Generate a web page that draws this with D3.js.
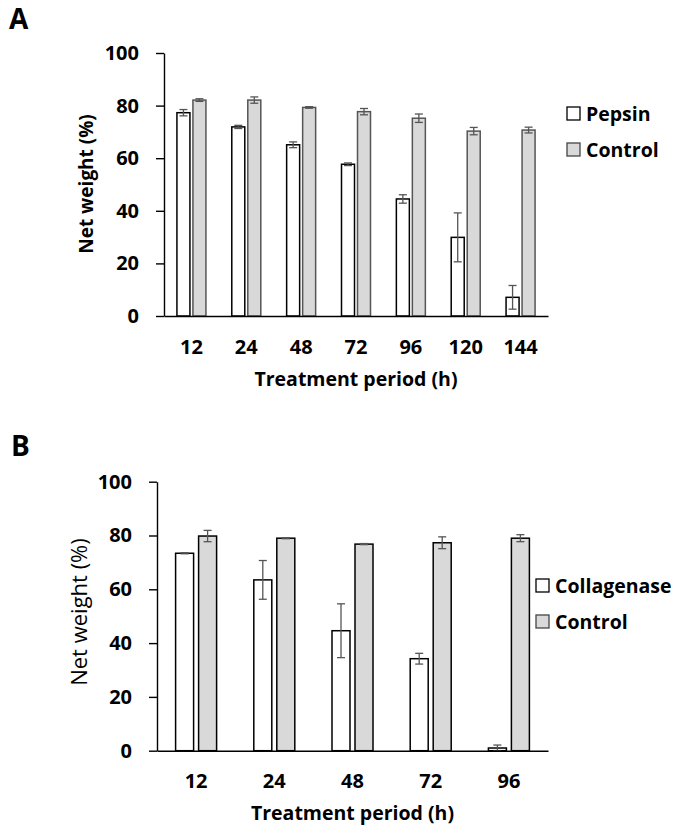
<!DOCTYPE html>
<html><head><meta charset="utf-8">
<script src="https://cdn.jsdelivr.net/npm/d3@7"></script>
<style>
body{margin:0;background:#fff}
svg{display:block}
text{font-family:"Open Sans",sans-serif;fill:#000}
</style>
</head><body>
<svg id="chart" width="675" height="830"></svg>
<script>
// ---- Data ----
const catsA = ["12", "24", "48", "72", "96", "120", "144"];
const pepsin = [77.3, 71.9, 65.1, 57.7, 44.5, 29.9, 7.1];
const pepsinErr = [1.2, 0.6, 1.1, 0.5, 1.6, 9.3, 4.5];
const controlA = [82.1, 82.1, 79.3, 77.7, 75.2, 70.3, 70.7];
const controlAErr = [0.5, 1.2, 0.3, 1.2, 1.6, 1.4, 1.1];

const catsB = ["12", "24", "48", "72", "96"];
const collagenase = [73.4, 63.5, 44.6, 34.2, 1.0];
const collagenaseErr = [0.2, 7.2, 10.0, 2.0, 1.1];
const controlB = [79.8, 79.0, 76.8, 77.3, 79.0];
const controlBErr = [2.1, 0.2, 0.2, 2.2, 1.3];

const yTicks = [0, 20, 40, 60, 80, 100];
const seriesNamesA = ["Pepsin", "Control"];
const seriesNamesB = ["Collagenase", "Control"];
const panelLabels = ["A", "B"];
const xTitle = "Treatment period (h)";
const yTitle = "Net weight (%)";

const svg = d3.select("#chart");

function drawPanel(o) {
  const g = svg.append("g");
  const x = d3.scaleBand().domain(o.cats).range([o.x0, o.x1]).padding(0);
  const y = d3.scaleLinear().domain([0, 100]).range([o.y0, o.y1]);

  // panel letter
  g.append("text").attr("x", o.letterX).attr("y", o.letterY)
    .attr("font-size", 28).attr("font-weight", 700).text(o.letter);

  // y axis
  const ya = g.append("g").attr("transform", `translate(${o.x0},0)`)
    .call(d3.axisLeft(y).tickValues(yTicks).tickSize(8).tickSizeOuter(0).tickPadding(17));
  ya.selectAll("path.domain").attr("stroke", "#000").attr("stroke-width", 1.4);
  ya.selectAll(".tick line").attr("stroke", "#000").attr("stroke-width", 1.4);
  ya.selectAll(".tick text").attr("font-size", 20).attr("font-weight", 700)
    .attr("font-family", '"Open Sans",sans-serif').attr("fill", "#000");

  // bars
  const series = [
    {vals: o.s1, errs: o.e1, off: -o.off, fill: "#fff", stroke: "#000"},
    {vals: o.s2, errs: o.e2, off: o.off, fill: "#d9d9d9", stroke: o.ctrlStroke}
  ];
  series.forEach(s => {
    const cx = (c) => x(c) + x.bandwidth() / 2 + s.off;
    g.append("g").selectAll("rect").data(o.cats).join("rect")
      .attr("x", (c) => cx(c) - o.bw / 2)
      .attr("y", (c, i) => y(s.vals[i]))
      .attr("width", o.bw)
      .attr("height", (c, i) => y(0) - y(s.vals[i]))
      .attr("fill", s.fill).attr("stroke", s.stroke).attr("stroke-width", 1.5);
    const eg = g.append("g").attr("stroke", "#555").attr("stroke-width", 1.3);
    o.cats.forEach((c, i) => {
      const X = cx(c), hi = y(s.vals[i] + s.errs[i]), lo = y(s.vals[i] - s.errs[i]);
      eg.append("line").attr("x1", X).attr("x2", X).attr("y1", hi).attr("y2", lo);
      eg.append("line").attr("x1", X - o.cap).attr("x2", X + o.cap).attr("y1", hi).attr("y2", hi);
      eg.append("line").attr("x1", X - o.cap).attr("x2", X + o.cap).attr("y1", lo).attr("y2", lo);
    });
  });

  // x axis
  const xa = g.append("g").attr("transform", `translate(0,${o.y0})`)
    .call(d3.axisBottom(x).tickSize(0).tickSizeOuter(0));
  xa.selectAll("path.domain").attr("stroke", "#000").attr("stroke-width", 1.4);
  xa.selectAll(".tick text").attr("y", o.tickLabelOff).attr("dy", 0)
    .attr("font-size", 20).attr("font-weight", 700)
    .attr("font-family", '"Open Sans",sans-serif').attr("fill", "#000");

  // axis titles
  g.append("text").attr("x", (o.x0 + o.x1) / 2).attr("y", o.xTitleY)
    .attr("text-anchor", "middle").attr("font-size", 19.5).attr("font-weight", 700).text(xTitle);
  g.append("text").attr("transform", `translate(${o.yTitleX},${o.yTitleY}) rotate(-90)`)
    .attr("text-anchor", "middle").attr("font-size", o.yTitleSize).attr("font-weight", o.yTitleWeight).text(yTitle);

  // legend
  o.names.forEach((n, i) => {
    const ly = o.legY + i * 36;
    g.append("rect").attr("x", o.legX).attr("y", ly).attr("width", 13).attr("height", 13)
      .attr("fill", i === 0 ? "#fff" : "#d9d9d9").attr("stroke", i === 0 ? "#000" : "#444").attr("stroke-width", 1.3);
    g.append("text").attr("x", o.legX + 19).attr("y", ly + 13.5)
      .attr("font-size", 19.5).attr("font-weight", 700).text(n);
  });
}

drawPanel({
  letter: panelLabels[0], letterX: 9, letterY: 29,
  cats: catsA, s1: pepsin, e1: pepsinErr, s2: controlA, e2: controlAErr,
  x0: 164, x1: 548, y0: 316, y1: 53,
  bw: 13, off: 8, cap: 4, ctrlStroke: "#555",
  tickLabelOff: 37.5, xTitleY: 385.5,
  yTitleX: 93, yTitleY: 184, yTitleSize: 19, yTitleWeight: 700,
  names: seriesNamesA, legX: 567, legY: 107
});

drawPanel({
  letter: panelLabels[1], letterX: 11, letterY: 456,
  cats: catsB, s1: collagenase, e1: collagenaseErr, s2: controlB, e2: controlBErr,
  x0: 157, x1: 548, y0: 750.7, y1: 481.7,
  bw: 18, off: 11.5, cap: 4, ctrlStroke: "#000",
  tickLabelOff: 37, xTitleY: 820,
  yTitleX: 87, yTitleY: 612, yTitleSize: 22, yTitleWeight: 400,
  names: seriesNamesB, legX: 536, legY: 579
});
</script>
</body></html>
